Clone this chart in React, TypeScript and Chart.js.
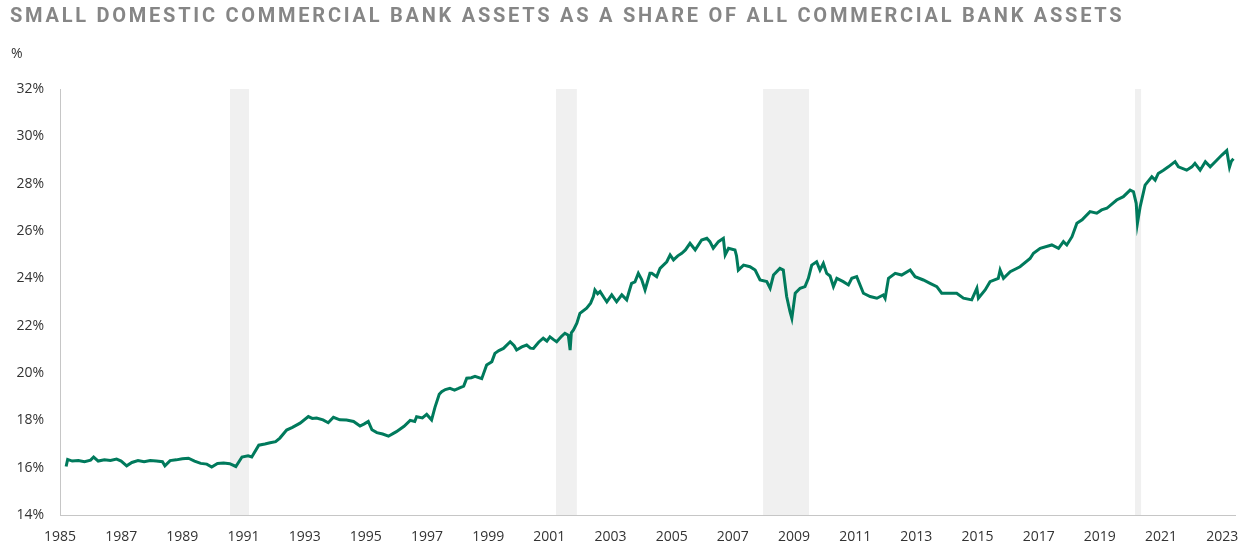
import React, { useEffect, useRef } from "react";
import { Chart, registerables } from "chart.js";

Chart.register(...registerables);

const TITLE = "SMALL DOMESTIC COMMERCIAL BANK ASSETS AS A SHARE OF ALL COMMERCIAL BANK ASSETS";
const UNIT_LABEL = "%";

const dateYears: number[] = [
  1985.2, 1985.25, 1985.4, 1985.6, 1985.8, 1986.0, 1986.1, 1986.25, 1986.45, 1986.65,
  1986.85, 1987.0, 1987.18, 1987.35, 1987.55, 1987.75, 1987.95, 1988.15, 1988.35, 1988.43,
  1988.6, 1988.8, 1989.0, 1989.2, 1989.4, 1989.6, 1989.8, 1989.96, 1990.15, 1990.35,
  1990.55, 1990.75, 1990.95, 1991.15, 1991.27, 1991.5, 1991.7, 1991.87, 1992.05, 1992.19,
  1992.41, 1992.6, 1992.85, 1993.12, 1993.25, 1993.39, 1993.6, 1993.77, 1993.94, 1994.15,
  1994.37, 1994.6, 1994.81, 1994.95, 1995.08, 1995.2, 1995.36, 1995.55, 1995.74, 1995.9,
  1996.0, 1996.25, 1996.45, 1996.6, 1996.66, 1996.85, 1996.99, 1997.15, 1997.26, 1997.4,
  1997.48, 1997.6, 1997.75, 1997.9, 1998.03, 1998.2, 1998.3, 1998.45, 1998.57, 1998.79,
  1998.95, 1999.12, 1999.22, 1999.35, 1999.5, 1999.72, 1999.85, 1999.93, 2000.1, 2000.26,
  2000.38, 2000.48, 2000.65, 2000.8, 2000.92, 2001.02, 2001.15, 2001.24, 2001.4, 2001.51,
  2001.62, 2001.68, 2001.72, 2001.79, 2001.9, 2002.0, 2002.22, 2002.35, 2002.44, 2002.49,
  2002.58, 2002.66, 2002.78, 2002.88, 2003.04, 2003.2, 2003.37, 2003.53, 2003.6, 2003.69,
  2003.8, 2003.91, 2004.02, 2004.13, 2004.29, 2004.35, 2004.51, 2004.62, 2004.84, 2004.95,
  2005.06, 2005.2, 2005.33, 2005.45, 2005.6, 2005.77, 2005.98, 2006.15, 2006.25, 2006.36,
  2006.53, 2006.69, 2006.75, 2006.86, 2007.07, 2007.12, 2007.18, 2007.35, 2007.56, 2007.73,
  2007.89, 2008.11, 2008.22, 2008.33, 2008.54, 2008.65, 2008.76, 2008.87, 2008.93, 2009.04,
  2009.2, 2009.36, 2009.47, 2009.58, 2009.74, 2009.85, 2009.96, 2010.07, 2010.18, 2010.29,
  2010.4, 2010.61, 2010.78, 2010.89, 2011.05, 2011.27, 2011.49, 2011.71, 2011.92, 2011.98,
  2012.09, 2012.31, 2012.52, 2012.8, 2012.96, 2013.23, 2013.45, 2013.67, 2013.83, 2014.1,
  2014.32, 2014.54, 2014.81, 2014.98, 2015.03, 2015.25, 2015.41, 2015.68, 2015.74, 2015.85,
  2016.07, 2016.39, 2016.72, 2016.83, 2017.05, 2017.43, 2017.65, 2017.81, 2017.92, 2018.09,
  2018.25, 2018.42, 2018.68, 2018.9, 2019.06, 2019.23, 2019.55, 2019.77, 2019.99, 2020.1,
  2020.19, 2020.23, 2020.32, 2020.48, 2020.7, 2020.81, 2020.91, 2021.08, 2021.24, 2021.46,
  2021.57, 2021.84, 2022.01, 2022.11, 2022.28, 2022.45, 2022.61, 2022.83, 2022.99, 2023.15,
  2023.24, 2023.3, 2023.37,
];

const shareValues: number[] = [
  16.05, 16.35, 16.28, 16.3, 16.25, 16.32, 16.45, 16.28, 16.33, 16.3,
  16.36, 16.28, 16.08, 16.22, 16.3, 16.25, 16.3, 16.28, 16.25, 16.08,
  16.3, 16.33, 16.38, 16.4, 16.28, 16.18, 16.15, 16.03, 16.18, 16.2,
  16.17, 16.05, 16.45, 16.5, 16.45, 16.95, 17.0, 17.05, 17.1, 17.25,
  17.59, 17.7, 17.88, 18.16, 18.08, 18.1, 18.02, 17.9, 18.13, 18.02,
  18.01, 17.95, 17.76, 17.85, 17.95, 17.6, 17.48, 17.42, 17.33, 17.45,
  17.52, 17.75, 18.0, 17.95, 18.15, 18.1, 18.25, 18.02, 18.55, 19.1,
  19.21, 19.3, 19.35, 19.28, 19.35, 19.45, 19.78, 19.8, 19.86, 19.76,
  20.34, 20.48, 20.83, 20.95, 21.04, 21.32, 21.15, 20.97, 21.1, 21.18,
  21.05, 21.04, 21.3, 21.47, 21.35, 21.53, 21.4, 21.32, 21.55, 21.68,
  21.6, 20.97, 21.7, 21.82, 22.1, 22.52, 22.74, 22.95, 23.23, 23.51,
  23.35, 23.44, 23.2, 23.01, 23.3, 23.01, 23.3, 23.09, 23.4, 23.79,
  23.85, 24.21, 23.95, 23.51, 24.21, 24.21, 24.07, 24.42, 24.7, 24.99,
  24.78, 24.95, 25.06, 25.2, 25.48, 25.2, 25.62, 25.69, 25.55, 25.27,
  25.55, 25.69, 24.99, 25.27, 25.2, 24.95, 24.35, 24.56, 24.49, 24.35,
  23.93, 23.86, 23.58, 24.14, 24.42, 24.35, 23.23, 22.59, 22.31, 23.37,
  23.58, 23.65, 24.0, 24.56, 24.7, 24.35, 24.63, 24.21, 24.1, 23.65,
  24.0, 23.86, 23.72, 24.0, 24.07, 23.37, 23.23, 23.16, 23.3, 23.16,
  24.0, 24.21, 24.14, 24.35, 24.07, 23.93, 23.79, 23.65, 23.37, 23.37,
  23.37, 23.16, 23.09, 23.58, 23.16, 23.51, 23.86, 24.0, 24.35, 24.0,
  24.28, 24.49, 24.84, 25.06, 25.27, 25.41, 25.27, 25.55, 25.41, 25.76,
  26.33, 26.47, 26.82, 26.75, 26.89, 26.96, 27.31, 27.45, 27.73, 27.66,
  27.17, 26.33, 27.03, 27.94, 28.29, 28.15, 28.43, 28.57, 28.71, 28.93,
  28.71, 28.57, 28.71, 28.86, 28.57, 28.93, 28.71, 29.0, 29.21, 29.4,
  28.7, 28.95, 29.05,
];

const recessionStarts: number[] = [1990.56, 2001.22, 2007.99, 2020.15];
const recessionEnds: number[] = [1991.18, 2001.9, 2009.49, 2020.35];

const xTickYears: number[] = [
  1985, 1987, 1989, 1991, 1993, 1995, 1997, 1999, 2001, 2003,
  2005, 2007, 2009, 2011, 2013, 2015, 2017, 2019, 2021, 2023,
];

const Y_MIN = 14;
const Y_MAX = 32;
const Y_STEP = 2;
const X_MIN = 1985;
const X_MAX = 2023.42;

const recessionPlugin = {
  id: "recessionBands",
  beforeDatasetsDraw(chart: any) {
    const { ctx, chartArea, scales } = chart;
    const xs = scales.x;
    ctx.save();
    ctx.fillStyle = "#f0f0f0";
    for (let i = 0; i < recessionStarts.length; i++) {
      const x0 = xs.getPixelForValue(recessionStarts[i]);
      const x1 = xs.getPixelForValue(recessionEnds[i]);
      ctx.fillRect(x0, chartArea.top, x1 - x0, chartArea.bottom - chartArea.top);
    }
    ctx.restore();
  },
};

export default function App() {
  const canvasRef = useRef<HTMLCanvasElement | null>(null);

  useEffect(() => {
    if (!canvasRef.current) return;
    const points = dateYears.map((x, i) => ({ x, y: shareValues[i] }));
    const tickFont = { family: "'Open Sans', 'Noto Sans', sans-serif", size: 14 };
    const chart = new Chart(canvasRef.current, {
      type: "line",
      data: {
        datasets: [
          {
            label: "Share",
            data: points,
            borderColor: "#007a5c",
            borderWidth: 3,
            pointRadius: 0,
            tension: 0,
            fill: false,
          },
        ],
      },
      options: {
        responsive: false,
        animation: false,
        layout: { padding: { top: 89, left: 8, right: 13, bottom: 0 } },
        plugins: {
          legend: { display: false },
          tooltip: { enabled: false },
        },
        scales: {
          x: {
            type: "linear",
            min: X_MIN,
            max: X_MAX,
            grid: { display: false, drawTicks: false },
            border: { display: true, color: "#c6c6c6", width: 1 },
            ticks: {
              padding: 14,
              color: "#333333",
              font: tickFont,
              autoSkip: false,
              maxRotation: 0,
              callback: (v: any) => String(v),
            },
            afterBuildTicks: (scale: any) => {
              scale.ticks = xTickYears.map((v) => ({ value: v }));
            },
            afterFit: (scale: any) => {
              scale.height = 35;
              scale.paddingLeft = 0;
              scale.paddingRight = 0;
            },
          },
          y: {
            type: "linear",
            min: Y_MIN,
            max: Y_MAX,
            grid: { display: false, drawTicks: false },
            border: { display: true, color: "#c6c6c6", width: 1 },
            ticks: {
              stepSize: Y_STEP,
              padding: 16,
              color: "#333333",
              font: tickFont,
              callback: (v: any) => `${v}%`,
            },
            afterFit: (scale: any) => {
              scale.width = 52;
              scale.paddingTop = 0;
              scale.paddingBottom = 0;
            },
          },
        },
      },
      plugins: [recessionPlugin],
    });
    return () => chart.destroy();
  }, []);

  return (
    <div style={{ position: "fixed", left: 0, top: 0, width: 1248, height: 550, background: "#ffffff" }}>
      <canvas ref={canvasRef} width={1248} height={550} style={{ position: "absolute", left: 0, top: 0 }} />
      <div
        style={{
          position: "absolute",
          left: 10,
          top: 3,
          fontFamily: "Roboto, 'Noto Sans', sans-serif",
          fontWeight: 700,
          fontSize: 20,
          letterSpacing: "2.75px",
          color: "#868686",
          whiteSpace: "nowrap",
        }}
      >
        {TITLE}
      </div>
      <div
        style={{
          position: "absolute",
          left: 11,
          top: 43,
          fontFamily: "'Open Sans', 'Noto Sans', sans-serif",
          fontSize: 14,
          color: "#333333",
        }}
      >
        {UNIT_LABEL}
      </div>
    </div>
  );
}
